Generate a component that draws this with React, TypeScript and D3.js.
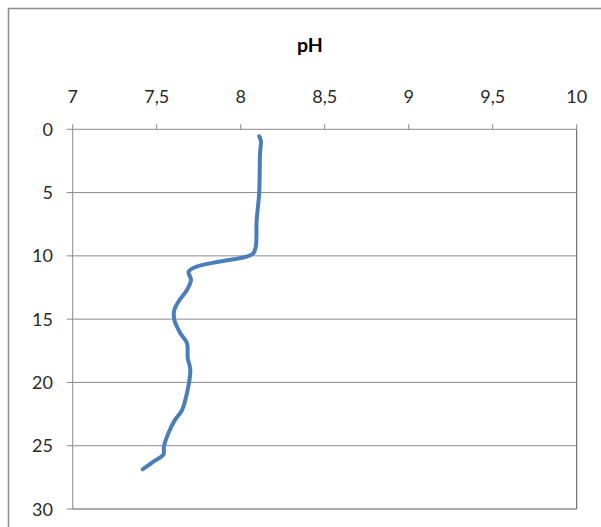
import React from "react";
import * as d3 from "d3";

const phValues = [8.11, 8.12, 8.115, 8.11, 8.095, 8.09, 8.075, 8.035, 7.877, 7.738, 7.69, 7.704, 7.68, 7.63, 7.605, 7.605, 7.64, 7.68, 7.685, 7.70, 7.68, 7.65, 7.609, 7.57, 7.543, 7.54, 7.48, 7.417];
const depthValues = [0.55, 0.9, 1.9, 5.05, 7.2, 9.27, 9.8, 10.06, 10.45, 10.85, 11.25, 11.9, 12.7, 13.6, 14.27, 15.06, 16.1, 16.9, 18.1, 19.0, 20.85, 22.2, 22.96, 24.0, 25.07, 25.7, 26.25, 26.86];
const xTicks = [7, 7.5, 8, 8.5, 9, 9.5, 10];
const yTicks = [0, 5, 10, 15, 20, 25, 30];
const title = "pH";

export default function App() {
  const x = d3.scaleLinear().domain([7, 10]).range([72.7, 576.7]);
  const y = d3.scaleLinear().domain([0, 30]).range([129.3, 509]);
  const pts = phValues.map((v, i) => [v, depthValues[i]] as [number, number]);
  const line = d3
    .line<[number, number]>()
    .x((d) => x(d[0]))
    .y((d) => y(d[1]))
    .curve(d3.curveCatmullRom.alpha(0.5));
  const fmt = (v: number) => String(v).replace(".", ",");
  const font = "Lato, 'Open Sans', sans-serif";
  return (
    <svg
      width={601}
      height={527}
      style={{ position: "absolute", left: 0, top: 0, background: "#fff" }}
    >
      <rect x={0} y={0} width={601} height={527} fill="#fff" />
      <rect x={8.5} y={8.5} width={640} height={560} fill="none" stroke="#8c8c8c" strokeWidth={1.5} />
      <text x={310} y={52} textAnchor="middle" fontFamily={font} fontWeight="bold" fontSize={19.5} fill="#000">
        {title}
      </text>
      {yTicks.slice(1, -1).map((t) => (
        <line key={"g" + t} x1={x(7)} x2={x(10)} y1={y(t)} y2={y(t)} stroke="#8a8a8a" strokeWidth={1} />
      ))}
      <line x1={x(7)} x2={x(10)} y1={y(30)} y2={y(30)} stroke="#555" strokeWidth={1} />
      <line x1={x(10)} x2={x(10)} y1={y(0)} y2={y(30)} stroke="#555" strokeWidth={1} />
      <line x1={x(7)} x2={x(10)} y1={y(0)} y2={y(0)} stroke="#8a8a8a" strokeWidth={1} />
      <line x1={x(7)} x2={x(7)} y1={y(0)} y2={y(30)} stroke="#8a8a8a" strokeWidth={1} />
      {xTicks.map((t) => (
        <g key={"x" + t}>
          <line x1={x(t)} x2={x(t)} y1={y(0) - 5} y2={y(0)} stroke="#8a8a8a" />
          <text x={x(t)} y={103} textAnchor="middle" fontFamily={font} fontSize={18} fill="#2a2a2a">
            {fmt(t)}
          </text>
        </g>
      ))}
      {yTicks.map((t) => (
        <g key={"y" + t}>
          <line x1={x(7) - 6} x2={x(7)} y1={y(t)} y2={y(t)} stroke="#8a8a8a" />
          <text x={53} y={y(t) + 6.5} textAnchor="end" fontFamily={font} fontSize={18} fill="#2a2a2a">
            {t}
          </text>
        </g>
      ))}
      <path d={line(pts) || ""} fill="none" stroke="#4a7ebb" strokeWidth={4} strokeLinecap="round" strokeLinejoin="round" />
    </svg>
  );
}
